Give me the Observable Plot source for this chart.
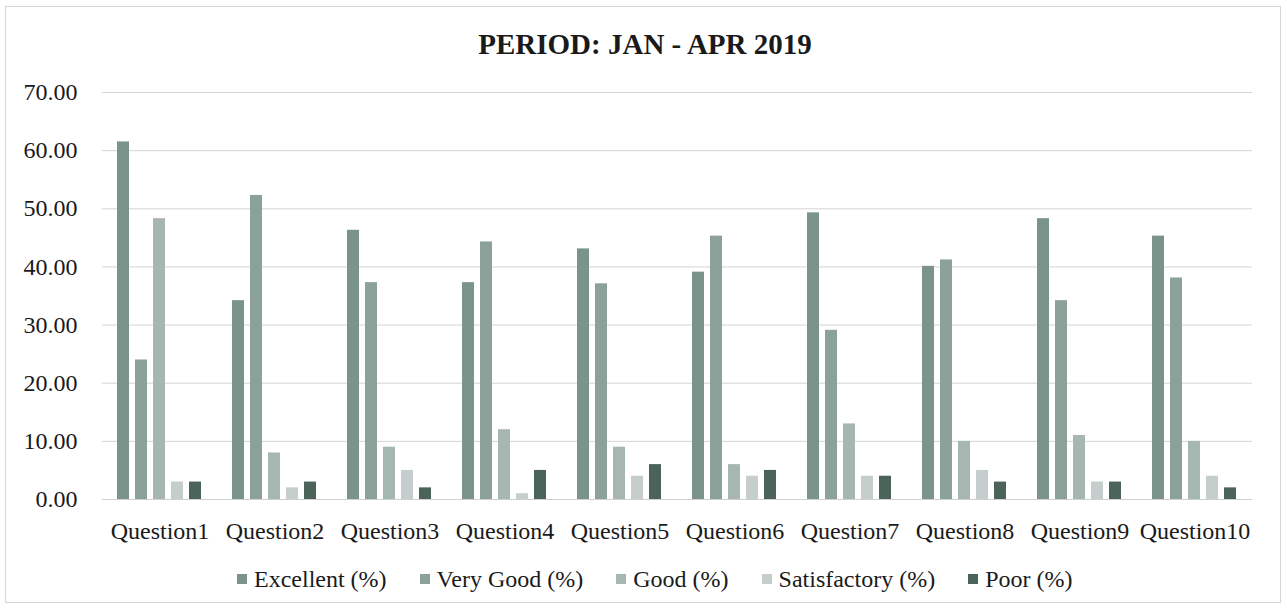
<!DOCTYPE html>
<html>
<head>
<meta charset="utf-8">
<script src="https://cdn.jsdelivr.net/npm/d3@7"></script>
<script src="https://cdn.jsdelivr.net/npm/@observablehq/plot@0.6"></script>
<style>
  html, body { margin: 0; padding: 0; background: #fff; }
  #wrap { position: relative; width: 1287px; height: 612px; overflow: hidden; font-family: "Liberation Serif", "Times New Roman", serif; }
  #frame { position: absolute; left: 5px; top: 6px; width: 1276px; height: 597px; border: 1px solid #d6d6d6; box-sizing: border-box; }
  #title { position: absolute; left: 0; width: 1290px; top: 27px; text-align: center; font-weight: bold; font-size: 29px; color: #1a1a1a; line-height: 34px; }
  #chart { position: absolute; left: 0; top: 70px; }
  #legend { position: absolute; left: 237px; top: 565px; display: flex; align-items: center; font-size: 24px; color: #1a1a1a; line-height: 28px; }
  .item { display: flex; align-items: center; margin-right: 33px; }
  .sw { width: 10px; height: 10px; margin-right: 7px; }
</style>
</head>
<body>
<div id="wrap">
  <div id="frame"></div>
  <div id="title">PERIOD: JAN - APR 2019</div>
  <div id="chart"></div>
  <div id="legend"></div>
</div>
<script>
const questions = ["Question1","Question2","Question3","Question4","Question5","Question6","Question7","Question8","Question9","Question10"];
const seriesNames = ["Excellent (%)","Very Good (%)","Good (%)","Satisfactory (%)","Poor (%)"];
const excellent    = [61.5, 34.2, 46.3, 37.3, 43.1, 39.1, 49.3, 40.1, 48.3, 45.3];
const veryGood     = [24.0, 52.3, 37.3, 44.3, 37.1, 45.3, 29.1, 41.2, 34.2, 38.1];
const good         = [48.3,  8.0,  9.0, 12.0,  9.0,  6.0, 13.0, 10.0, 11.0, 10.0];
const satisfactory = [ 3.0,  2.0,  5.0,  1.0,  4.0,  4.0,  4.0,  5.0,  3.0,  4.0];
const poor         = [ 3.0,  3.0,  2.0,  5.0,  6.0,  5.0,  4.0,  3.0,  3.0,  2.0];
const yTicks = [0, 10, 20, 30, 40, 50, 60, 70];
const colors = ["#7b948b", "#8ba199", "#a6b6b0", "#c6cecd", "#4c635a"];

const seriesValues = [excellent, veryGood, good, satisfactory, poor];
const data = [];
questions.forEach((q, i) => {
  seriesNames.forEach((s, j) => data.push({question: q, series: s, value: seriesValues[j][i]}));
});

const chart = Plot.plot({
  width: 1287,
  height: 480,
  marginLeft: 98,
  marginRight: 31,
  marginTop: 22,
  marginBottom: 51,
  style: {fontFamily: "'Liberation Serif', 'Times New Roman', serif", fontSize: "24px", color: "#1a1a1a", background: "transparent"},
  fx: {domain: questions, paddingInner: 0, paddingOuter: 0, label: null, tickSize: 0, tickPadding: 22},
  x: {domain: seriesNames, paddingInner: 0.31, paddingOuter: 0.835, axis: null},
  y: {domain: [0, 70], ticks: yTicks, tickFormat: d3.format(".2f"), tickSize: 0, tickPadding: 25, label: null},
  color: {domain: seriesNames, range: colors},
  marks: [
    Plot.gridY(yTicks, {stroke: "#d4d4d4", strokeOpacity: 1, strokeWidth: 1}),
    Plot.barY(data, {fx: "question", x: "series", y: "value", fill: "series"}),
    Plot.ruleY([0], {stroke: "#cfcfcf", strokeWidth: 1})
  ]
});
chart.querySelectorAll("text").forEach(t => t.setAttribute("fill", "#1a1a1a"));
document.getElementById("chart").appendChild(chart);

const legend = document.getElementById("legend");
seriesNames.forEach((s, j) => {
  const item = document.createElement("div");
  item.className = "item";
  const sw = document.createElement("div");
  sw.className = "sw";
  sw.style.background = colors[j];
  const label = document.createElement("span");
  label.textContent = s;
  item.appendChild(sw);
  item.appendChild(label);
  legend.appendChild(item);
});
</script>
</body>
</html>
